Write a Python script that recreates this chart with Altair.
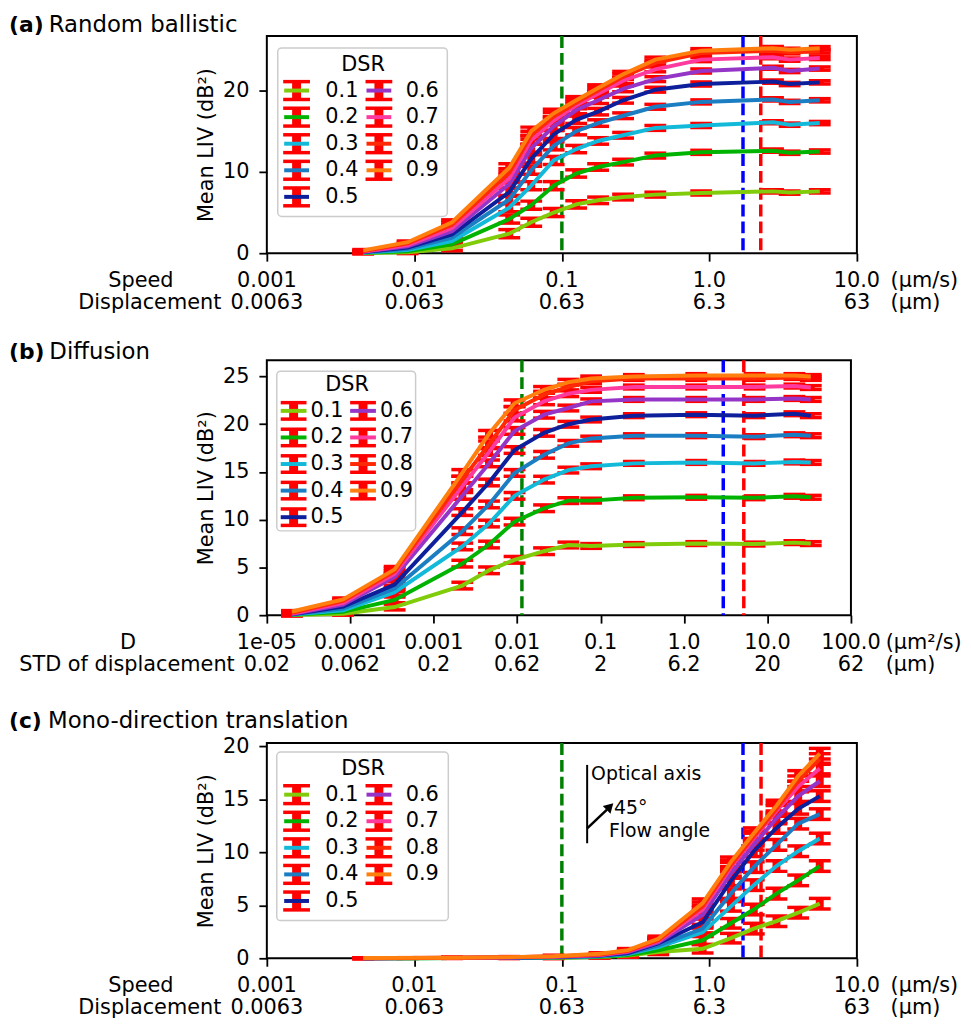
import altair as alt
import pandas as pd

FONT = "DejaVu Sans"
FS = 21

dsr_labels = ["0.1", "0.2", "0.3", "0.4", "0.5", "0.6", "0.7", "0.8", "0.9"]
dsr_colors = ["#80cc0a", "#00b300", "#12b9d9", "#1b7ec2", "#0d1f9b",
              "#9535c8", "#ff3a9e", "#ff2a05", "#ff7f0e"]

# ---------------- panel (a) Random ballistic ----------------
xa = [0.0045, 0.009, 0.018, 0.044, 0.062, 0.088, 0.125, 0.176, 0.26, 0.43, 0.88, 2.7, 3.5, 5.6]
a01 = [0.02, 0.1, 0.6, 2.4, 3.8, 5.0, 6.0, 6.5, 6.9, 7.2, 7.4, 7.6, 7.45, 7.6]
a02 = [0.05, 0.25, 1.1, 4.2, 5.9, 8.3, 9.8, 10.6, 11.2, 12.0, 12.4, 12.6, 12.35, 12.5]
a03 = [0.08, 0.4, 1.5, 5.6, 8.3, 11.4, 12.8, 13.8, 14.5, 15.4, 15.7, 16.1, 15.8, 16.0]
a04 = [0.1, 0.55, 1.9, 6.6, 10.2, 13.2, 15.0, 16.0, 16.9, 18.0, 18.6, 18.9, 18.6, 18.8]
a05 = [0.13, 0.7, 2.3, 7.5, 11.6, 14.6, 16.4, 17.4, 18.8, 20.1, 20.8, 21.1, 20.8, 21.0]
a06 = [0.16, 0.85, 2.7, 8.5, 12.9, 15.6, 17.6, 18.8, 20.2, 21.4, 22.4, 22.8, 22.4, 22.7]
a07 = [0.2, 1.0, 3.1, 9.2, 13.9, 16.3, 18.2, 19.6, 21.2, 22.6, 23.8, 24.1, 23.8, 24.0]
a08 = [0.25, 1.2, 3.5, 9.9, 14.5, 16.8, 18.5, 20.0, 21.7, 23.4, 24.6, 24.9, 24.7, 24.8]
a09 = [0.35, 1.35, 3.8, 10.5, 15.0, 17.2, 18.8, 20.3, 22.0, 23.8, 24.9, 25.2, 25.0, 25.2]
err_a = [0.1, 0.15, 0.3, 0.5, 0.5, 0.5, 0.45, 0.4, 0.35, 0.3, 0.25, 0.2, 0.2, 0.2]

# ---------------- panel (b) Diffusion ----------------
xb = [2e-5, 8.2e-5, 3.4e-4, 2.2e-3, 4.6e-3, 9.3e-3, 0.021, 0.041, 0.077, 0.25, 1.4, 7.0, 21.0, 33.0]
b01 = [0.02, 0.15, 0.85, 3.1, 4.7, 5.8, 6.7, 7.35, 7.25, 7.4, 7.5, 7.45, 7.6, 7.5]
b02 = [0.04, 0.35, 1.6, 5.4, 7.4, 9.8, 11.2, 12.0, 12.0, 12.3, 12.35, 12.3, 12.45, 12.35]
b03 = [0.06, 0.5, 2.4, 7.2, 9.6, 12.5, 14.2, 15.2, 15.6, 15.9, 16.0, 15.9, 16.05, 16.0]
b04 = [0.08, 0.7, 2.8, 8.8, 11.6, 14.9, 16.8, 18.0, 18.5, 18.8, 18.8, 18.7, 18.9, 18.8]
b05 = [0.1, 0.9, 3.2, 10.8, 13.9, 17.3, 19.1, 20.0, 20.5, 20.9, 21.0, 20.9, 21.1, 20.9]
b06 = [0.13, 1.1, 4.0, 12.5, 15.9, 19.3, 21.0, 21.7, 22.4, 22.6, 22.6, 22.6, 22.7, 22.6]
b07 = [0.17, 1.3, 4.35, 13.5, 17.1, 20.7, 22.4, 23.2, 23.6, 23.9, 23.9, 23.9, 24.0, 23.85]
b08 = [0.25, 1.5, 4.6, 14.2, 17.9, 21.5, 23.1, 23.9, 24.5, 24.8, 24.8, 24.8, 24.9, 24.8]
b09 = [0.38, 1.65, 4.8, 14.9, 19.0, 22.2, 23.6, 24.4, 24.8, 25.0, 25.1, 25.1, 25.1, 25.0]
err_b = [0.1, 0.15, 0.3, 0.35, 0.35, 0.35, 0.35, 0.3, 0.25, 0.2, 0.2, 0.2, 0.2, 0.2]

# ---------------- panel (c) Mono-direction translation ----------------
xc = [0.0045, 0.009, 0.018, 0.044, 0.088, 0.18, 0.28, 0.45, 0.9, 1.4, 2.0, 2.85, 4.0, 5.6]
c01 = [0.0, 0.01, 0.02, 0.03, 0.05, 0.12, 0.25, 0.6, 0.9, 1.9, 2.8, 3.5, 4.3, 5.15]
c02 = [0.0, 0.01, 0.02, 0.04, 0.07, 0.15, 0.3, 0.75, 1.7, 3.3, 4.6, 6.1, 7.35, 8.7]
c03 = [0.0, 0.01, 0.03, 0.05, 0.09, 0.2, 0.4, 1.05, 2.45, 4.9, 6.9, 8.7, 10.1, 11.3]
c04 = [0.0, 0.02, 0.03, 0.06, 0.1, 0.22, 0.45, 1.2, 2.8, 6.1, 8.6, 10.7, 12.7, 13.6]
c05 = [0.0, 0.02, 0.04, 0.07, 0.12, 0.25, 0.5, 1.4, 3.4, 7.3, 10.1, 12.3, 14.1, 15.3]
c06 = [0.01, 0.02, 0.04, 0.08, 0.14, 0.28, 0.58, 1.5, 4.1, 8.0, 10.7, 13.2, 15.3, 16.7]
c07 = [0.01, 0.03, 0.05, 0.09, 0.16, 0.32, 0.65, 1.6, 4.6, 8.6, 11.3, 13.9, 16.2, 17.9]
c08 = [0.01, 0.03, 0.05, 0.1, 0.18, 0.36, 0.7, 1.7, 4.9, 8.8, 11.5, 14.1, 16.7, 18.8]
c09 = [0.02, 0.04, 0.06, 0.11, 0.2, 0.42, 0.77, 1.84, 5.2, 9.1, 11.8, 14.4, 17.2, 19.3]
err_c = [0.02, 0.02, 0.03, 0.05, 0.08, 0.1, 0.15, 0.25, 0.4, 0.45, 0.5, 0.5, 0.5, 0.5]

# tick labels
xt_speed = [0.001, 0.01, 0.1, 1.0, 10.0]
xt_speed_l1 = ["0.001", "0.01", "0.1", "1.0", "10.0"]
xt_speed_l2 = ["0.0063", "0.063", "0.63", "6.3", "63"]
xt_d = [1e-5, 1e-4, 1e-3, 1e-2, 0.1, 1.0, 10.0, 100.0]
xt_d_l1 = ["1e-05", "0.0001", "0.001", "0.01", "0.1", "1.0", "10.0", "100.0"]
xt_d_l2 = ["0.02", "0.062", "0.2", "0.62", "2", "6.2", "20", "62"]

# threshold lines (green, blue, red)
dash_colors = ["green", "blue", "red"]
dash_a = [0.1, 1.69, 2.23]
dash_b = [0.0114, 2.95, 5.2]
dash_c = [0.1, 1.69, 2.24]

color_enc = alt.Color("dsr:N", scale=alt.Scale(domain=dsr_labels, range=dsr_colors), legend=None)


def long_df(xs, series, errs):
    rows = []
    for lab, ys in zip(dsr_labels, series):
        for x, y, e in zip(xs, ys, errs):
            rows.append({"x": x, "y": y, "lo": y - e, "hi": y + e, "dsr": lab})
    return pd.DataFrame(rows)


def one(**kw):
    return pd.DataFrame({k: [v] for k, v in kw.items()})


def text_at(txt, x, y, size=FS, weight="normal", align="left"):
    return alt.Chart(one(t=txt)).mark_text(
        fontSize=size, fontWeight=weight, align=align, baseline="middle",
        color="black", font=FONT).encode(
        x=alt.value(x), y=alt.value(y), text="t:N")


def make_panel(s):
    W, H = s["W"], s["H"]
    xs = alt.Scale(type="log", domain=s["xdom"], nice=False)
    ys = alt.Scale(type="linear", domain=s["ydom"], nice=False, zero=False)
    xaxis = alt.Axis(values=s["xticks"], labels=False, tickSize=8, tickWidth=1.8,
                     tickColor="black", domain=False, grid=False, title=None)
    yaxis = alt.Axis(values=s["yticks"], format="d", tickSize=8, tickWidth=1.8,
                     tickColor="black", domain=False, grid=False,
                     labelFontSize=FS, labelColor="black", labelFont=FONT, labelPadding=10,
                     title="Mean LIV (dB²)", titleFontSize=FS, titleFontWeight="normal",
                     titleColor="black", titleFont=FONT, titlePadding=6)
    X = alt.X("x:Q", scale=xs, axis=xaxis)
    df = long_df(s["xs"], s["series"], s["err"])
    base = alt.Chart(df)

    layers = []
    for v, c in zip(s["dash"], dash_colors):
        layers.append(alt.Chart(one(x=v)).mark_rule(color=c, strokeWidth=3.5, strokeDash=[12, 5]).encode(x=X))

    layers.append(base.mark_rule(color="red", strokeWidth=8).encode(
        x=X, y=alt.Y("lo:Q", scale=ys, axis=yaxis), y2="hi:Q"))
    for f in ["lo", "hi"]:
        layers.append(base.mark_tick(color="red", orient="horizontal", size=22, thickness=3.5, opacity=1).encode(
            x=X, y=alt.Y(f + ":Q", scale=ys, axis=yaxis)))
    layers.append(base.mark_line(strokeWidth=4).encode(
        x=X, y=alt.Y("y:Q", scale=ys, axis=yaxis), color=color_enc))

    # tick labels (two rows)
    tdf = pd.DataFrame({"x": s["xticks"], "l1": s["lab1"], "l2": s["lab2"]})
    for fld, dy in [("l1", 28), ("l2", 50)]:
        layers.append(alt.Chart(tdf).mark_text(fontSize=FS, font=FONT, color="black", baseline="middle").encode(
            x=X, y=alt.value(H + dy), text=fld + ":N"))
    layers.append(text_at(s["left1"][0], s["left1"][1], H + 28, align="center"))
    layers.append(text_at(s["left2"][0], s["left2"][1], H + 50, align="center"))
    layers.append(text_at(s["unit1"], s["unit_x"], H + 28))
    layers.append(text_at(s["unit2"], s["unit_x"], H + 50))

    # panel title
    layers.append(text_at(s["tag"], -260, s["title_y"], size=22, weight="bold"))
    layers.append(text_at(s["title"], -260 + s["tag_w"], s["title_y"], size=23))

    # legend
    L = s["leg"]
    rows = []
    for i, lab in enumerate(dsr_labels):
        col, r = i // 5, i % 5
        sx = L["sym_x"][col]
        yy = L["row0"] + r * L["step"]
        rows.append({"dsr": lab, "sx": sx, "cx1": sx - L["cap"], "cx2": sx + L["cap"],
                     "lx1": sx - L["line"], "lx2": sx + L["line"],
                     "ly": yy, "ly1": yy - L["h"], "ly2": yy + L["h"], "tx": L["lab_x"][col]})
    ldf = pd.DataFrame(rows)
    bx1, bx2, by1, by2 = L["box"]
    layers.append(alt.Chart(one(a=0)).mark_rect(fill="white", fillOpacity=0.85, stroke="#cccccc",
                                                strokeWidth=1.5, cornerRadius=4).encode(
        x=alt.value(bx1), x2=alt.value(bx2), y=alt.value(by1), y2=alt.value(by2)))
    layers.append(text_at("DSR", L["title"][0], L["title"][1], align="center"))
    lb = alt.Chart(ldf)
    layers.append(lb.mark_rule(color="red", strokeWidth=9).encode(
        x=alt.X("sx:Q", scale=None, axis=None), y=alt.Y("ly1:Q", scale=None, axis=None), y2="ly2:Q"))
    for f in ["ly1", "ly2"]:
        layers.append(lb.mark_rule(color="red", strokeWidth=3.5).encode(
            x=alt.X("cx1:Q", scale=None, axis=None), x2="cx2:Q", y=alt.Y(f + ":Q", scale=None, axis=None)))
    layers.append(lb.mark_rule(strokeWidth=4).encode(
        x=alt.X("lx1:Q", scale=None, axis=None), x2="lx2:Q",
        y=alt.Y("ly:Q", scale=None, axis=None), color=color_enc))
    layers.append(lb.mark_text(align="left", baseline="middle", fontSize=FS, font=FONT, color="black").encode(
        x=alt.X("tx:Q", scale=None, axis=None), y=alt.Y("ly:Q", scale=None, axis=None), text="dsr:N"))

    if s.get("inset"):
        layers.append(alt.Chart(one(a=0)).mark_rule(color="black", strokeWidth=2).encode(
            x=alt.value(323), y=alt.value(22), y2=alt.value(101)))
        layers.append(alt.Chart(one(a=0)).mark_rule(color="black", strokeWidth=2.5).encode(
            x=alt.value(323), x2=alt.value(343), y=alt.value(86), y2=alt.value(67)))
        layers.append(alt.Chart(one(a=0)).mark_point(shape="triangle-up", filled=True, size=120, angle=45,
                                                     color="black", opacity=1).encode(
            x=alt.value(346), y=alt.value(64)))
        layers.append(text_at("Optical axis", 327, 31, size=19))
        layers.append(text_at("45°", 350, 66, size=19))
        layers.append(text_at("Flow angle", 345, 89, size=19))

    return alt.layer(*layers).properties(width=W, height=H)


leg_a = dict(box=(11, 182, 12, 182), title=(97, 29), row0=55, step=26.8,
             sym_x=(30, 113), lab_x=(59, 140), cap=13.5, line=12.5, h=9)
leg_b = dict(box=(10, 150, 11, 172), title=(81, 25), row0=51, step=26.8,
             sym_x=(27, 97), lab_x=(44, 114), cap=13, line=13, h=8.3)
leg_c = dict(box=(10, 183, 9, 179), title=(97, 26), row0=52, step=26.8,
             sym_x=(30, 113), lab_x=(59, 140), cap=13.5, line=12.5, h=9)

pa = make_panel(dict(W=595, H=219, xdom=[0.001, 10], ydom=[0, 26.7], yticks=[0, 10, 20],
                     xs=xa, series=[a01, a02, a03, a04, a05, a06, a07, a08, a09], err=err_a,
                     xticks=xt_speed, lab1=xt_speed_l1, lab2=xt_speed_l2,
                     left1=("Speed", -127), left2=("Displacement", -118),
                     unit1="(μm/s)", unit2="(μm)", unit_x=629, dash=dash_a,
                     tag="(a)", title="Random ballistic", tag_w=40, title_y=-11.5, leg=leg_a))
pb = make_panel(dict(W=589, H=257, xdom=[1e-5, 100], ydom=[0, 26.7], yticks=[0, 5, 10, 15, 20, 25],
                     xs=xb, series=[b01, b02, b03, b04, b05, b06, b07, b08, b09], err=err_b,
                     xticks=xt_d, lab1=xt_d_l1, lab2=xt_d_l2,
                     left1=("D", -140), left2=("STD of displacement", -141),
                     unit1="(μm²/s)", unit2="(μm)", unit_x=624, dash=dash_b,
                     tag="(b)", title="Diffusion", tag_w=40.7, title_y=-8.3, leg=leg_b))
pc = make_panel(dict(W=595, H=217, xdom=[0.001, 10], ydom=[0, 20.3], yticks=[0, 5, 10, 15, 20],
                     xs=xc, series=[c01, c02, c03, c04, c05, c06, c07, c08, c09], err=err_c,
                     xticks=xt_speed, lab1=xt_speed_l1, lab2=xt_speed_l2,
                     left1=("Speed", -127), left2=("Displacement", -118),
                     unit1="(μm/s)", unit2="(μm)", unit_x=629, dash=dash_c,
                     tag="(c)", title="Mono-direction translation", tag_w=39.3, title_y=-22.7,
                     leg=leg_c, inset=True))

inner = alt.vconcat(pb, pc, spacing=129, bounds="flush")
chart = alt.vconcat(pa, inner, spacing=108, bounds="flush").properties(
    padding={"left": 0, "top": 0, "right": 0, "bottom": 0}
).configure(font=FONT).configure_view(stroke="black", strokeWidth=2)

chart.save("out.html", embed_options={"renderer": "svg", "actions": False})
